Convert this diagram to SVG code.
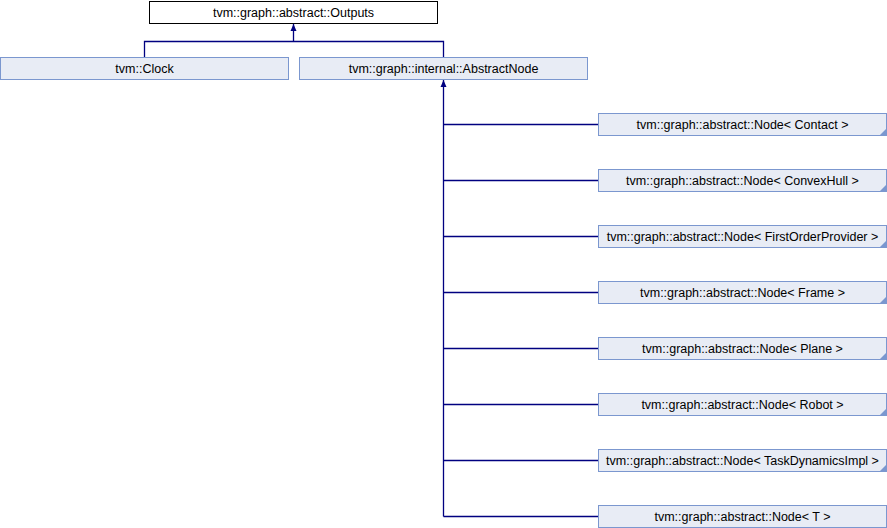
<svg xmlns="http://www.w3.org/2000/svg" width="887" height="528" viewBox="0 0 887 528">
<style>
.n{fill:#e8ecf5;stroke:#7b97cf;stroke-width:1}
.r{fill:#ffffff;stroke:#000000;stroke-width:1}
.t{font-family:"Liberation Sans",Arial,sans-serif;font-size:12.5px;fill:#000;text-anchor:middle}
.e{fill:none;stroke:#000080;stroke-width:1.3}
.f{fill:#7b97cf}
</style>
<defs>
<marker id="a" markerWidth="8" markerHeight="8" refX="7" refY="4" orient="auto" markerUnits="userSpaceOnUse">
<path d="M0,1 L7,4 L0,7 Z" fill="#000080"/>
</marker>
</defs>
<rect width="887" height="528" fill="#fff"/>
<g id="connectors">
<path class="e" d="M144.5,57 V41.5 H443.5 V57"/>
<path class="e" d="M293.5,41.5 V24" marker-end="url(#a)"/>
<path class="e" d="M443.5,516.5 V80" marker-end="url(#a)"/>
<path class="e" d="M443.5,124.5 H598"/>
<path class="e" d="M443.5,180.5 H598"/>
<path class="e" d="M443.5,236.5 H598"/>
<path class="e" d="M443.5,292.5 H598"/>
<path class="e" d="M443.5,348.5 H598"/>
<path class="e" d="M443.5,404.5 H598"/>
<path class="e" d="M443.5,460.5 H598"/>
<path class="e" d="M443.5,516.5 H598"/>
</g>
<g id="outputs"><rect class="r" x="149.5" y="1.5" width="288" height="22"/><text class="t" x="293.5" y="17">tvm::graph::abstract::Outputs</text></g>
<g id="clock"><rect class="n" x="0.5" y="57.5" width="288" height="22"/><text class="t" x="144.5" y="73">tvm::Clock</text></g>
<g id="abstractnode"><rect class="n" x="299.5" y="57.5" width="288" height="22"/><text class="t" x="443.5" y="73">tvm::graph::internal::AbstractNode</text></g>
<g id="node_contact"><rect class="n" x="598.5" y="113.5" width="288" height="22"/><path class="f" d="M886,129 L886,135 L880,135 Z"/><text class="t" x="742.5" y="129">tvm::graph::abstract::Node&lt; Contact &gt;</text></g>
<g id="node_convexhull"><rect class="n" x="598.5" y="169.5" width="288" height="22"/><path class="f" d="M886,185 L886,191 L880,191 Z"/><text class="t" x="742.5" y="185">tvm::graph::abstract::Node&lt; ConvexHull &gt;</text></g>
<g id="node_firstorder"><rect class="n" x="598.5" y="225.5" width="288" height="22"/><path class="f" d="M886,241 L886,247 L880,247 Z"/><text class="t" x="742.5" y="241">tvm::graph::abstract::Node&lt; FirstOrderProvider &gt;</text></g>
<g id="node_frame"><rect class="n" x="598.5" y="281.5" width="288" height="22"/><path class="f" d="M886,297 L886,303 L880,303 Z"/><text class="t" x="742.5" y="297">tvm::graph::abstract::Node&lt; Frame &gt;</text></g>
<g id="node_plane"><rect class="n" x="598.5" y="337.5" width="288" height="22"/><path class="f" d="M886,353 L886,359 L880,359 Z"/><text class="t" x="742.5" y="353">tvm::graph::abstract::Node&lt; Plane &gt;</text></g>
<g id="node_robot"><rect class="n" x="598.5" y="393.5" width="288" height="22"/><path class="f" d="M886,409 L886,415 L880,415 Z"/><text class="t" x="742.5" y="409">tvm::graph::abstract::Node&lt; Robot &gt;</text></g>
<g id="node_taskdyn"><rect class="n" x="598.5" y="449.5" width="288" height="22"/><path class="f" d="M886,465 L886,471 L880,471 Z"/><text class="t" x="742.5" y="465">tvm::graph::abstract::Node&lt; TaskDynamicsImpl &gt;</text></g>
<g id="node_t"><rect class="n" x="598.5" y="505.5" width="288" height="22"/><text class="t" x="742.5" y="521">tvm::graph::abstract::Node&lt; T &gt;</text></g>
</svg>
